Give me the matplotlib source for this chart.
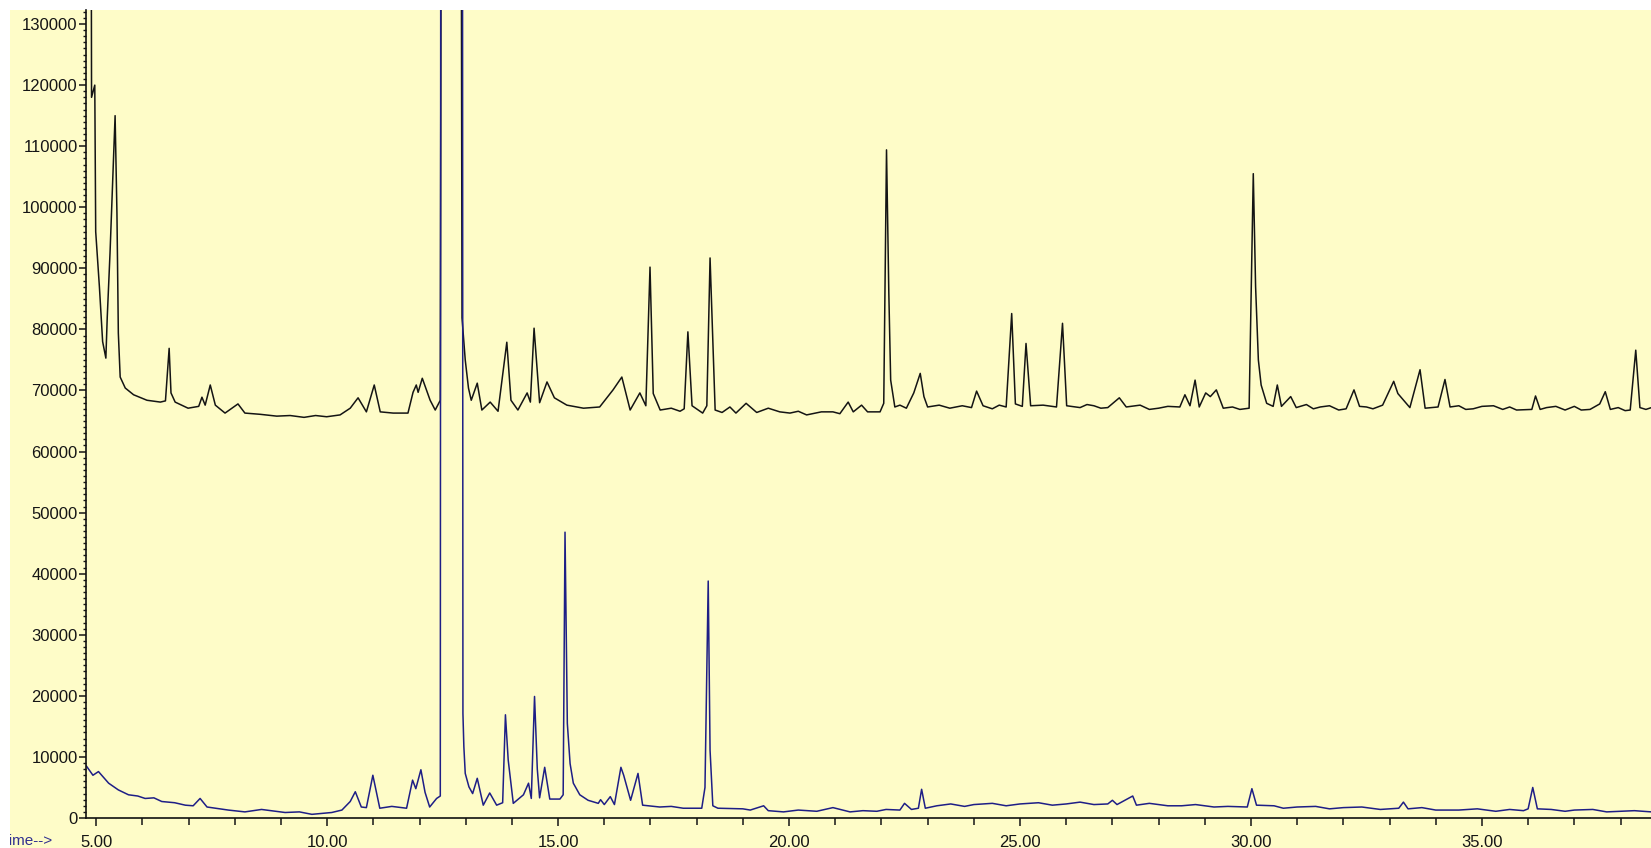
import matplotlib
matplotlib.use("Agg")
import matplotlib.pyplot as plt
from matplotlib.patches import Rectangle
from matplotlib.ticker import MultipleLocator, FuncFormatter

plt.rcParams['font.family'] = ['Liberation Sans', 'DejaVu Sans']

# ---- data: upper (black) trace, (retention time in min, abundance in thousands)
top_trace = [
    (4.86, 300), (4.90, 118), (4.97, 120), (4.99, 96), (5.07, 87), (5.14, 78), (5.21, 75.3),
    (5.24, 82), (5.30, 92.5), (5.41, 115), (5.45, 99), (5.48, 79.4), (5.52, 72.2), (5.63, 70.4),
    (5.81, 69.3), (6.10, 68.4), (6.39, 68.1), (6.50, 68.3), (6.58, 76.9), (6.62, 69.6),
    (6.71, 68.1), (6.99, 67.1), (7.22, 67.4), (7.29, 68.9), (7.36, 67.6), (7.47, 70.9),
    (7.58, 67.6), (7.79, 66.3), (8.07, 67.8), (8.22, 66.3), (8.55, 66.1), (8.91, 65.8),
    (9.20, 65.9), (9.50, 65.6), (9.75, 65.9), (9.99, 65.7), (10.28, 66.0), (10.50, 67.1),
    (10.67, 68.8), (10.85, 66.5), (11.02, 70.9), (11.15, 66.5), (11.43, 66.3), (11.75, 66.3),
    (11.86, 69.7), (11.93, 70.9), (11.97, 69.7), (12.06, 72.0), (12.23, 68.4), (12.34, 66.8),
    (12.45, 68.4), (12.50, 300), (12.87, 300), (12.92, 81.9), (12.99, 75.0), (13.06, 70.4),
    (13.12, 68.4), (13.25, 71.2), (13.35, 66.8), (13.53, 68.1), (13.70, 66.6), (13.89, 77.9),
    (13.98, 68.4), (14.13, 66.8), (14.33, 69.6), (14.40, 68.1), (14.48, 80.2), (14.60, 68.0),
    (14.76, 71.4), (14.92, 68.8), (15.19, 67.6), (15.55, 67.1), (15.90, 67.3), (16.19, 70.1),
    (16.38, 72.2), (16.56, 66.8), (16.77, 69.6), (16.90, 67.5), (16.99, 90.2), (17.06, 69.5),
    (17.21, 66.8), (17.45, 67.1), (17.64, 66.6), (17.73, 67.0), (17.81, 79.6), (17.90, 67.5),
    (18.13, 66.3), (18.22, 67.5), (18.29, 91.7), (18.40, 66.8), (18.55, 66.4), (18.72, 67.3),
    (18.85, 66.3), (19.07, 67.9), (19.30, 66.4), (19.55, 67.1), (19.80, 66.5), (20.02, 66.3),
    (20.20, 66.6), (20.38, 66.0), (20.70, 66.5), (20.95, 66.5), (21.10, 66.2), (21.28, 68.1),
    (21.39, 66.5), (21.57, 67.6), (21.70, 66.5), (21.97, 66.5), (22.05, 67.9), (22.11, 109.4),
    (22.16, 85.9), (22.20, 71.7), (22.29, 67.3), (22.40, 67.6), (22.54, 67.1), (22.70, 69.6),
    (22.84, 72.8), (22.92, 69.0), (23.00, 67.3), (23.25, 67.6), (23.48, 67.1), (23.75, 67.5),
    (23.95, 67.2), (24.06, 69.9), (24.20, 67.5), (24.40, 67.0), (24.55, 67.6), (24.70, 67.3),
    (24.82, 82.6), (24.90, 67.8), (25.05, 67.4), (25.13, 77.7), (25.23, 67.5), (25.50, 67.6),
    (25.79, 67.3), (25.92, 81.0), (26.01, 67.5), (26.30, 67.2), (26.45, 67.7), (26.60, 67.5),
    (26.75, 67.1), (26.90, 67.2), (27.15, 68.8), (27.30, 67.3), (27.60, 67.6), (27.80, 66.9),
    (28.00, 67.1), (28.20, 67.4), (28.46, 67.3), (28.57, 69.3), (28.68, 67.5), (28.79, 71.7),
    (28.88, 67.3), (29.02, 69.6), (29.12, 69.0), (29.25, 70.1), (29.40, 67.1), (29.60, 67.3),
    (29.76, 66.9), (29.96, 67.1), (30.05, 105.5), (30.10, 87.0), (30.16, 75.0), (30.22, 70.9),
    (30.34, 67.9), (30.48, 67.4), (30.57, 70.9), (30.66, 67.4), (30.86, 69.0), (30.98, 67.2),
    (31.20, 67.7), (31.35, 67.0), (31.50, 67.3), (31.70, 67.5), (31.90, 66.8), (32.06, 67.0),
    (32.23, 70.1), (32.35, 67.4), (32.50, 67.3), (32.64, 67.0), (32.85, 67.6), (33.09, 71.5),
    (33.18, 69.5), (33.44, 67.2), (33.66, 73.4), (33.77, 67.1), (34.05, 67.3), (34.20, 71.8),
    (34.31, 67.3), (34.50, 67.5), (34.65, 66.9), (34.81, 67.0), (35.00, 67.4), (35.25, 67.5),
    (35.45, 66.9), (35.60, 67.3), (35.75, 66.8), (36.08, 66.9), (36.16, 69.1), (36.26, 66.9),
    (36.40, 67.2), (36.60, 67.4), (36.80, 66.8), (37.00, 67.4), (37.15, 66.8), (37.34, 66.9),
    (37.55, 67.8), (37.67, 69.8), (37.78, 66.9), (37.95, 67.2), (38.10, 66.7), (38.21, 66.8),
    (38.33, 76.6), (38.42, 67.2), (38.55, 66.9), (38.67, 67.2),
]

# ---- data: lower (blue) trace, (retention time in min, abundance in thousands)
low_trace = [
    (4.78, 8.6), (4.93, 7.0), (5.05, 7.6), (5.27, 5.7), (5.48, 4.6), (5.70, 3.8), (5.90, 3.6),
    (6.06, 3.2), (6.25, 3.3), (6.42, 2.7), (6.70, 2.5), (6.93, 2.1), (7.10, 2.0), (7.25, 3.2),
    (7.40, 1.8), (7.86, 1.3), (8.22, 1.0), (8.58, 1.4), (9.09, 0.9), (9.40, 1.0), (9.67, 0.6),
    (10.10, 0.9), (10.32, 1.3), (10.50, 2.7), (10.61, 4.3), (10.74, 1.8), (10.85, 1.7),
    (10.99, 7.0), (11.14, 1.6), (11.40, 1.9), (11.72, 1.6), (11.85, 6.2), (11.92, 4.8),
    (12.03, 7.9), (12.12, 4.2), (12.22, 1.8), (12.37, 3.2), (12.45, 3.6), (12.47, 300),
    (12.92, 300), (12.94, 17.1), (12.96, 11.7), (12.99, 7.3), (13.07, 5.1), (13.15, 4.0),
    (13.25, 6.5), (13.38, 2.1), (13.52, 4.1), (13.67, 2.1), (13.80, 2.5), (13.86, 16.9),
    (13.92, 9.5), (14.03, 2.4), (14.25, 3.8), (14.36, 5.7), (14.42, 3.2), (14.49, 19.9),
    (14.55, 8.0), (14.60, 3.3), (14.71, 8.3), (14.82, 3.1), (15.04, 3.1), (15.11, 3.8),
    (15.15, 46.8), (15.20, 15.5), (15.26, 8.9), (15.33, 5.7), (15.47, 3.8), (15.65, 2.9),
    (15.87, 2.4), (15.92, 3.0), (16.00, 2.2), (16.13, 3.5), (16.22, 2.2), (16.36, 8.3),
    (16.42, 7.0), (16.57, 2.9), (16.73, 7.3), (16.83, 2.1), (17.20, 1.8), (17.45, 1.9),
    (17.71, 1.6), (18.11, 1.6), (18.18, 5.0), (18.25, 38.8), (18.29, 11.1), (18.35, 2.0),
    (18.46, 1.6), (19.00, 1.5), (19.16, 1.3), (19.45, 2.0), (19.55, 1.2), (19.88, 1.0),
    (20.20, 1.3), (20.60, 1.1), (20.95, 1.7), (21.32, 1.0), (21.60, 1.2), (21.90, 1.1),
    (22.10, 1.4), (22.40, 1.3), (22.50, 2.4), (22.65, 1.4), (22.80, 1.6), (22.87, 4.7),
    (22.95, 1.6), (23.20, 2.0), (23.50, 2.3), (23.80, 1.9), (24.00, 2.2), (24.40, 2.4),
    (24.70, 2.0), (25.00, 2.3), (25.40, 2.5), (25.70, 2.1), (26.00, 2.3), (26.30, 2.6),
    (26.60, 2.2), (26.90, 2.3), (27.00, 2.9), (27.10, 2.2), (27.44, 3.6), (27.52, 2.1),
    (27.80, 2.4), (28.20, 2.0), (28.50, 2.0), (28.80, 2.2), (29.20, 1.8), (29.50, 1.9),
    (29.92, 1.8), (30.02, 4.8), (30.12, 2.1), (30.50, 2.0), (30.70, 1.6), (31.00, 1.8),
    (31.40, 1.9), (31.70, 1.5), (32.00, 1.7), (32.40, 1.8), (32.80, 1.4), (33.20, 1.6),
    (33.30, 2.6), (33.40, 1.5), (33.70, 1.7), (34.00, 1.3), (34.50, 1.3), (34.90, 1.5),
    (35.30, 1.1), (35.60, 1.4), (35.90, 1.2), (36.00, 1.5), (36.10, 5.0), (36.20, 1.5),
    (36.50, 1.4), (36.80, 1.1), (37.00, 1.3), (37.40, 1.4), (37.70, 1.0), (38.00, 1.1),
    (38.30, 1.2), (38.67, 1.0),
]

y_ticks = list(range(0, 130001, 10000))
x_ticks = [5, 10, 15, 20, 25, 30, 35]

W, H = 1651, 848
fig = plt.figure(figsize=(W / 100, H / 100), dpi=100)
fig.patch.set_facecolor('white')
bg = '#FEFCC8'
fig.patches.append(Rectangle((0, 0), 1, (H - 10) / H, transform=fig.transFigure,
                             facecolor=bg, edgecolor='none', zorder=-10))
# white margin on the left edge of the screenshot (drawn over the text)
fig.patches.append(Rectangle((0, 0), 10 / W, 1, transform=fig.transFigure,
                             facecolor='white', edgecolor='none', zorder=20))

ax = fig.add_axes([86 / W, (H - 818) / H, 1 - 86 / W, (818 - 10) / H])
ax.set_facecolor(bg)

tt, tv = zip(*top_trace)
lt, lv = zip(*low_trace)
ax.plot(tt, [v * 1000 for v in tv], color='#141414', lw=1.1)
ax.plot(lt, [v * 1000 for v in lv], color='#1e1e86', lw=1.1)

ax.set_xlim(4.78, 38.66)
ax.set_ylim(0, 132300)

for s in ['top', 'right']:
    ax.spines[s].set_visible(False)
for s in ['left', 'bottom']:
    ax.spines[s].set_color('#111111')
    ax.spines[s].set_linewidth(1.2)

ax.set_yticks(y_ticks)
ax.yaxis.set_major_formatter(FuncFormatter(lambda v, p: f"{int(v)}"))
ax.yaxis.set_minor_locator(MultipleLocator(1000))
ax.set_xticks(x_ticks)
ax.set_xticklabels([f"{t:.2f}" for t in x_ticks])
ax.xaxis.set_minor_locator(MultipleLocator(1))

ax.tick_params(axis='y', which='major', direction='out', length=5, width=1.1,
               labelsize=12, pad=1, colors='#151515')
ax.tick_params(axis='y', which='minor', direction='out', length=2.5, width=1.0, colors='#151515')
ax.tick_params(axis='x', which='major', direction='out', length=6, width=1.1,
               labelsize=12, pad=6, colors='#151515')
ax.tick_params(axis='x', which='minor', direction='out', length=5, width=1.1, colors='#151515')

t = fig.text(1 / W, (H - 834) / H, "Time-->", ha='left', va='top', fontsize=11,
             color='#303090')
t.set_zorder(5)

fig.savefig("out.png", dpi=100, facecolor='white')
